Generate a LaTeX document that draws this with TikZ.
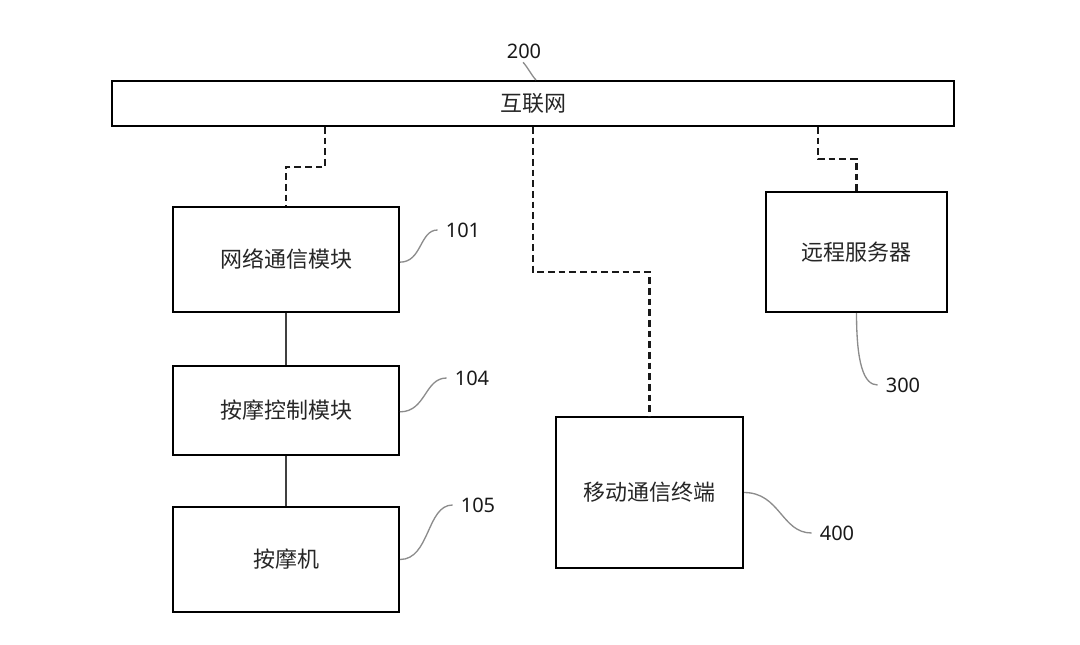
\documentclass[tikz,border=0pt]{standalone}
\usepackage{fontspec}
\newfontfamily\cjk{Noto Sans CJK SC}
\newfontfamily\numfont{Noto Sans}
\begin{document}
\begin{tikzpicture}[x=0.75pt,y=-0.75pt,
  box/.style 2 args={draw=black,line width=1.5pt,fill=white,inner sep=0pt,
    minimum width=#1*0.75pt,minimum height=#2*0.75pt,
    font=\cjk\fontsize{16.5}{18}\selectfont,text=black!85},
  num/.style={font=\numfont\fontsize{15}{17}\selectfont,text=black!90,inner sep=2pt},
  dsh/.style={draw=black!90,line width=1.6pt,dash pattern=on 5pt off 3pt},
  link/.style={draw=black!75,line width=0.8pt},
  leader/.style={draw=black!45,line width=1pt}]
\useasboundingbox (0,0) rectangle (1080,645);

% nodes
\node[box={842}{45}] (net) at (533,103.5) {互联网};
\node[box={226}{105}] (m101) at (286,259.5) {网络通信模块};
\node[box={226}{89}] (m104) at (286,410.5) {按摩控制模块};
\node[box={226}{105}] (m105) at (286,559.5) {按摩机};
\node[box={181}{120}] (srv) at (856.5,252) {远程服务器};
\node[box={187}{151}] (mob) at (649.5,492.5) {移动通信终端};

% labels
\node[num] (l200) at (524,51) {200};
\node[num] (l101) at (463,230) {101};
\node[num] (l104) at (472,378) {104};
\node[num] (l105) at (478,505) {105};
\node[num] (l300) at (903,385) {300};
\node[num] (l400) at (837,533) {400};

% dashed connectors
\coordinate (c1) at (325,167);
\coordinate (c2) at (533,272);
\coordinate (c3) at (818,159);
\draw[dsh] (net.south -| c1) -- (c1) -| (m101.north);
\draw[dsh] (net.south -| c2) -- (c2) -| (mob.north);
\draw[dsh] (net.south -| c3) -- (c3) -| (srv.north);

% solid connectors
\draw[link] (m101.south) -- (m104.north);
\draw[link] (m104.south) -- (m105.north);

% leaders
\draw[leader] (l200.south) ++(-1,1) .. controls +(4,4) and +(-4,-4) .. (net.north -| 536,0);
\draw[leader] ([yshift=-2pt]m101.east) .. controls +(22,0) and +(-18,0) .. ([xshift=-4pt]l101.west);
\draw[leader] ([yshift=-1pt]m104.east) .. controls +(26,0) and +(-22,0) .. ([xshift=-4pt]l104.west);
\draw[leader] (m105.east) .. controls +(30,0) and +(-26,0) .. ([xshift=-4pt]l105.west);
\draw[leader] (srv.south) .. controls +(0,50) and +(-14,0) .. ([xshift=-4pt]l300.west);
\draw[leader] (mob.east) .. controls +(36,0) and +(-30,0) .. ([xshift=-4pt]l400.west);
\end{tikzpicture}
\end{document}
